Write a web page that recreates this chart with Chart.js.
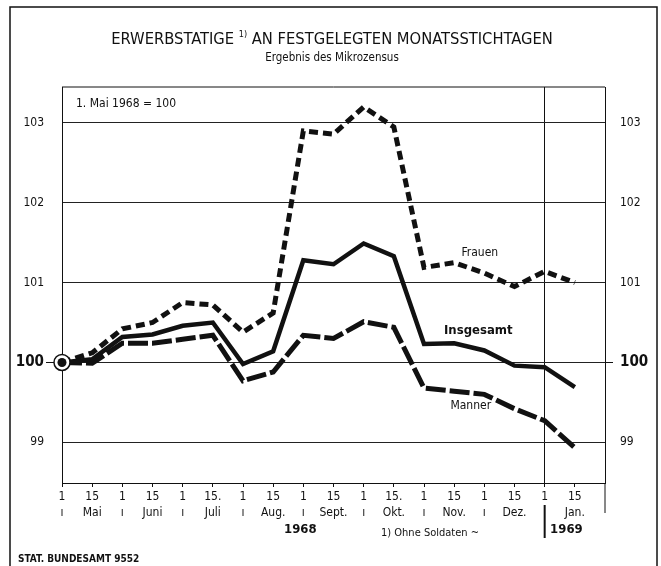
<!DOCTYPE html>
<html>
<head>
<meta charset="utf-8">
<script src="https://cdn.jsdelivr.net/npm/chart.js@4.4.1/dist/chart.umd.min.js"></script>
<style>
  body { margin: 0; background: #fff; }
  #wrap { width: 661px; height: 566px; position: relative; }
</style>
</head>
<body>
<div id="wrap"><canvas id="erwerbChart"></canvas></div>
<script>
// Stichtage: 1. und 15. jedes Monats, Mai 1968 bis Jan. 1969
const dayLabels = ["1","15","1","15","1","15.","1","15","1","15","1","15.","1","15","1","15","1","15"];
const months = ["Mai","Juni","Juli","Aug.","Sept.","Okt.","Nov.","Dez.","Jan."];
const yTicks = [99, 100, 101, 102, 103];

// 1. Mai 1968 = 100
const frauen    = [100, 100.12, 100.42, 100.5, 100.75, 100.72, 100.38, 100.62, 102.9, 102.86, 103.2, 102.95, 101.19, 101.25, 101.12, 100.95, 101.14, 101.0];
const insgesamt = [100, 100.04, 100.32, 100.35, 100.46, 100.5, 99.98, 100.14, 101.28, 101.23, 101.49, 101.33, 100.23, 100.24, 100.15, 99.96, 99.94, 99.69];
const maenner   = [100, 99.99, 100.24, 100.24, 100.29, 100.34, 99.77, 99.88, 100.34, 100.3, 100.51, 100.44, 99.68, 99.64, 99.6, 99.42, 99.27, 98.93];

const NARROW = '"Liberation Sans Narrow", "DejaVu Sans Condensed", sans-serif';
const INK = '#111';

function toPoints(arr) {
  return arr.map(function (v, i) { return { x: i, y: v }; });
}

const decor = {
  id: 'decor',
  afterDraw: function (chart) {
    const ctx = chart.ctx;
    const a = chart.chartArea;
    const xs = chart.scales.x, ys = chart.scales.y;
    ctx.save();
    ctx.strokeStyle = INK;
    ctx.fillStyle = INK;

    // outer frame
    ctx.lineWidth = 1.5;
    ctx.strokeRect(10, 7, 647, 580);

    // top of plot box
    ctx.lineWidth = 1;
    ctx.beginPath();
    ctx.moveTo(a.left, a.top); ctx.lineTo(a.right, a.top);
    // right border runs down past axis
    ctx.moveTo(a.right, a.bottom); ctx.lineTo(a.right, 513);
    ctx.stroke();

    // 1968 / 1969 separator
    const xd = xs.getPixelForValue(16);
    ctx.lineWidth = 2;
    ctx.beginPath();
    ctx.moveTo(xd, 505); ctx.lineTo(xd, 538);
    ctx.stroke();

    // title
    ctx.textBaseline = 'middle';
    const t1 = 'ERWERBSTATIGE ', t2 = '1)', t3 = ' AN FESTGELEGTEN MONATSSTICHTAGEN';
    ctx.font = '16.4px ' + NARROW;
    const w1 = ctx.measureText(t1).width, w3 = ctx.measureText(t3).width;
    ctx.font = '9px ' + NARROW;
    const w2 = ctx.measureText(t2).width;
    let tx = 332 - (w1 + w2 + w3) / 2;
    ctx.textAlign = 'left';
    ctx.font = '16.4px ' + NARROW;
    ctx.fillText(t1, tx, 40);
    ctx.font = '9px ' + NARROW;
    ctx.fillText(t2, tx + w1, 35);
    ctx.font = '16.4px ' + NARROW;
    ctx.fillText(t3, tx + w1 + w2, 40);

    ctx.textAlign = 'center';
    ctx.font = '11.5px ' + NARROW;
    ctx.fillText('Ergebnis des Mikrozensus', 332, 58);

    ctx.textAlign = 'left';
    ctx.font = '12px ' + NARROW;
    ctx.fillText('1. Mai 1968 = 100', 76, 104);

    // series labels
    ctx.textAlign = 'center';
    ctx.font = '12px ' + NARROW;
    ctx.fillText('Frauen', xs.getPixelForValue(13.85), ys.getPixelForValue(101.37));
    ctx.font = 'bold 13px ' + NARROW;
    ctx.fillText('Insgesamt', xs.getPixelForValue(13.8), ys.getPixelForValue(100.4));
    ctx.font = '12px ' + NARROW;
    ctx.fillText('Manner', xs.getPixelForValue(13.55), ys.getPixelForValue(99.46));

    // years
    ctx.font = 'bold 13px ' + NARROW;
    ctx.fillText('1968', xs.getPixelForValue(7.9), 530);
    ctx.fillText('1969', xs.getPixelForValue(16.72), 530);

    // footnotes
    ctx.font = '11px ' + NARROW;
    ctx.fillText('1) Ohne Soldaten ~', 430, 533);
    ctx.textAlign = 'left';
    ctx.font = 'bold 10px ' + NARROW;
    ctx.fillText('STAT. BUNDESAMT 9552', 18, 559);
    ctx.restore();
  }
};

const ERWERB = document.getElementById('erwerbChart');
let erwerbChart = new Chart(ERWERB, {
  type: 'line',
  data: {
    datasets: [
      { label: 'Punkt', data: toPoints(insgesamt.slice(0, 1)), order: 0, showLine: false, clip: false,
        pointRadius: 4.5, pointBackgroundColor: INK, pointBorderWidth: 0 },
      { label: 'Ring', data: toPoints(insgesamt.slice(0, 1)), order: 1, showLine: false, clip: false,
        pointRadius: 8, pointBackgroundColor: '#fff', pointBorderColor: INK, pointBorderWidth: 1.5 },
      { label: 'Insgesamt', data: toPoints(insgesamt), order: 2, borderColor: INK,
        borderWidth: 4.5, pointRadius: 0, tension: 0 },
      { label: 'Frauen', data: toPoints(frauen), order: 3, borderColor: INK,
        borderWidth: 5, borderDash: [9, 5], pointRadius: 0, tension: 0 },
      { label: 'Männer', data: toPoints(maenner), order: 3, borderColor: INK,
        borderWidth: 5, borderDash: [20, 4], pointRadius: 0, tension: 0 }
    ]
  },
  options: {
    responsive: true,
    maintainAspectRatio: false,
    animation: false,
    layout: { padding: { top: 87, left: 0, right: 0, bottom: 0 } },
    plugins: { legend: { display: false }, tooltip: { enabled: false } },
    scales: {
      x: {
        type: 'linear', min: 0, max: 18,
        afterFit: function (scale) { scale.height = 83; },
        border: { display: true, color: INK, width: 1 },
        grid: {
          drawOnChartArea: true, drawTicks: true, tickLength: 4,
          color: function (c) { return c.tick && c.tick.value === 16 ? INK : 'rgba(0,0,0,0)'; },
          tickColor: function (c) { return c.tick && c.tick.value < 18 ? INK : 'rgba(0,0,0,0)'; },
          lineWidth: 1
        },
        ticks: {
          stepSize: 1, autoSkip: false, maxRotation: 0, padding: 2, color: INK,
          font: { family: NARROW, size: 12, lineHeight: 1.35 },
          callback: function (v) {
            if (v >= 18) return '';
            if (v % 2 === 1) return [dayLabels[v], months[(v - 1) / 2]];
            return [dayLabels[v], v === 16 ? '' : 'ı'];
          }
        }
      },
      y: {
        position: 'left', min: 98.49, max: 103.45,
        afterFit: function (scale) { scale.width = 62; },
        afterBuildTicks: function (scale) { scale.ticks = yTicks.map(function (v) { return { value: v }; }); },
        border: { display: true, color: INK, width: 1 },
        grid: {
          color: '#222', lineWidth: 1, drawTicks: true, tickLength: 16,
          tickColor: function (c) { return c.tick && c.tick.value === 100 ? INK : 'rgba(0,0,0,0)'; }
        },
        ticks: {
          padding: 2, color: INK,
          font: function (c) {
            return c.tick && c.tick.value === 100 ? { family: NARROW, size: 15, weight: 'bold' } : { family: NARROW, size: 12 };
          }
        }
      },
      y2: {
        position: 'right', min: 98.49, max: 103.45,
        afterFit: function (scale) { scale.width = 56; },
        afterBuildTicks: function (scale) { scale.ticks = yTicks.map(function (v) { return { value: v }; }); },
        border: { display: true, color: INK, width: 1 },
        grid: {
          drawOnChartArea: false, drawTicks: true, tickLength: 8,
          tickColor: function (c) { return c.tick && c.tick.value === 100 ? INK : 'rgba(0,0,0,0)'; }
        },
        ticks: {
          padding: 7, color: INK,
          font: function (c) {
            return c.tick && c.tick.value === 100 ? { family: NARROW, size: 15, weight: 'bold' } : { family: NARROW, size: 12 };
          }
        }
      }
    }
  },
  plugins: [decor]
});
</script>
</body>
</html>
